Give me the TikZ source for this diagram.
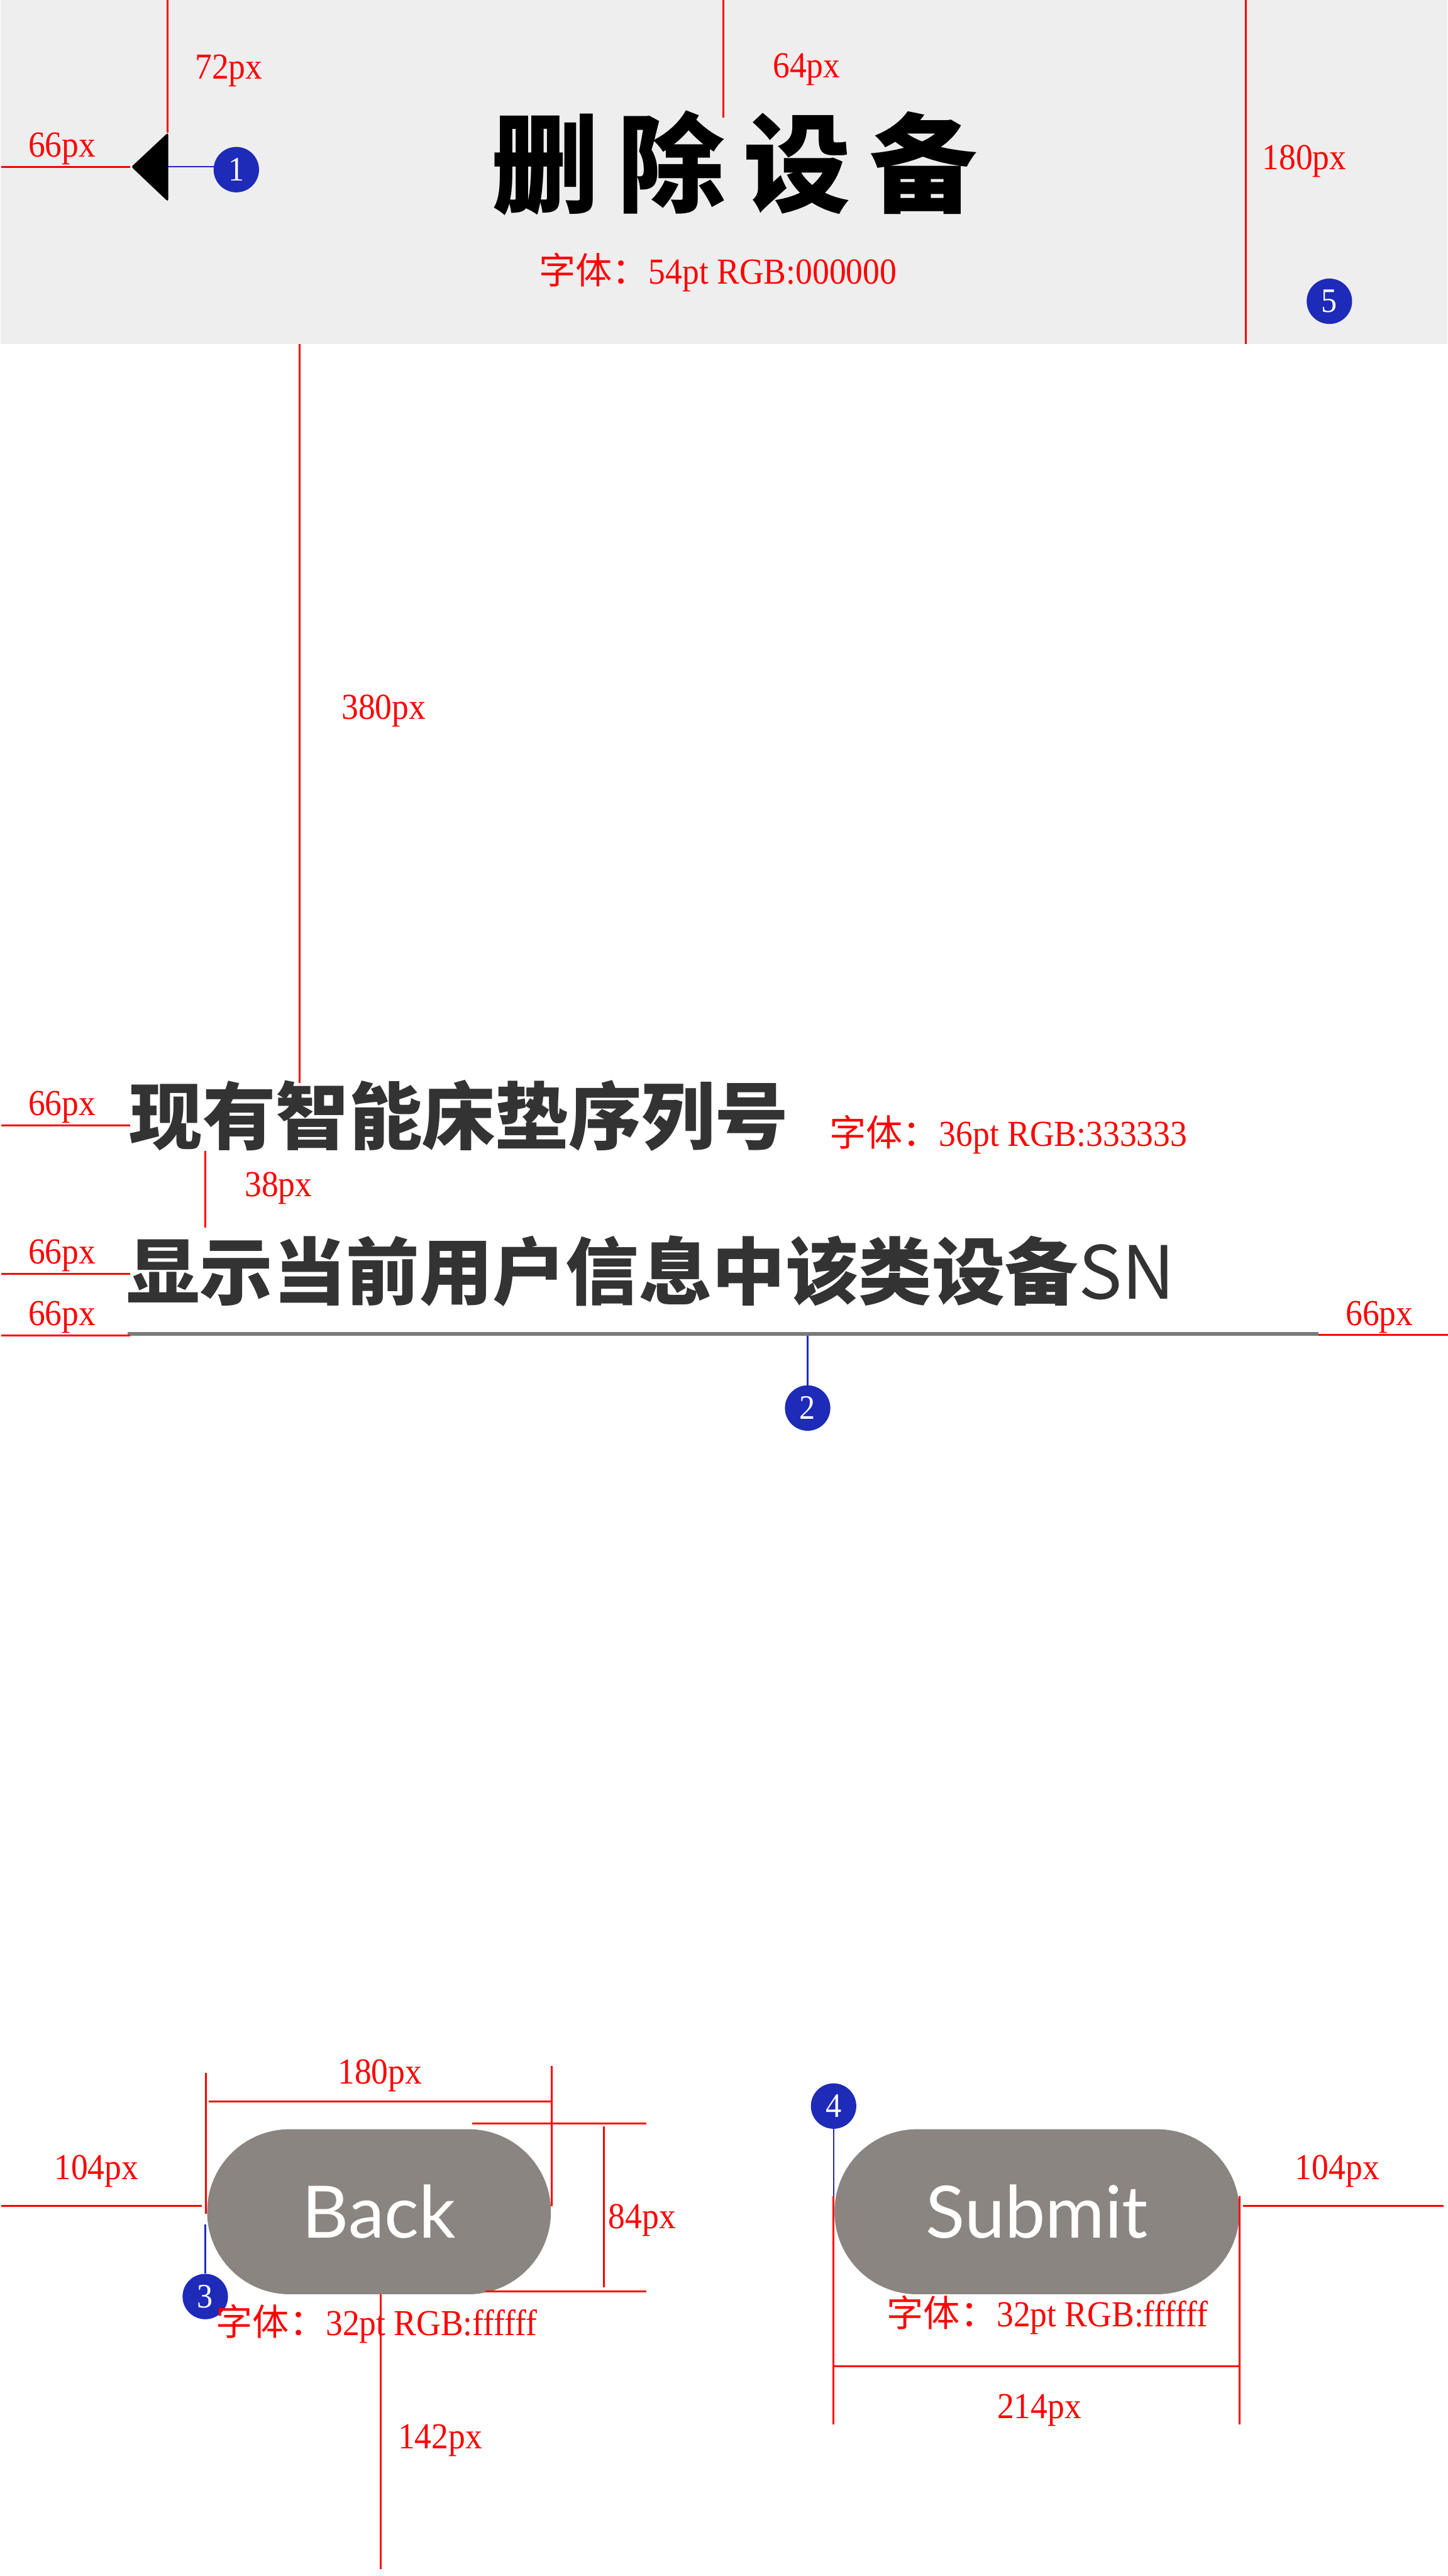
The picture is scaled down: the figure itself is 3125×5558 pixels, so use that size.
\documentclass[tikz,border=0pt]{standalone}
\usepackage{fontspec}
\setmainfont{Liberation Serif}[FakeStretch=0.92]
\newfontfamily\cjk{Noto Sans CJK SC}
\newfontfamily\btnfont{Lato}
\definecolor{hdr}{HTML}{EEEEEE}
\definecolor{mred}{HTML}{FF0000}
\definecolor{mblue}{RGB}{30,42,184}
\definecolor{txt}{HTML}{333333}
\definecolor{uline}{HTML}{7A7A7A}
\definecolor{btn}{RGB}{138,133,128}
\tikzset{
  dim/.style={draw=mred, line width=4pt},
  lbl/.style={text=mred, inner sep=0pt, anchor=base west, font=\fontsize{79}{79}\selectfont},
  badge/.style={circle, fill=mblue, minimum size=98pt, inner sep=0pt, text=white, font=\fontsize{74}{74}\selectfont},
  leader/.style={draw=mblue, line width=3pt},
  pill/.style={fill=btn, rounded corners=177.9pt, minimum height=356pt, inner sep=0pt, text=white, font=\btnfont\fontsize{156}{156}\selectfont},
  body/.style={text=txt, inner sep=0pt, anchor=west, font=\cjk\bfseries\fontsize{158}{158}\selectfont}
}
\begin{document}
\begin{tikzpicture}[x=1pt, y=-1pt]
\useasboundingbox (0,0) rectangle (3125,5558);
% header
\fill[hdr] (2,0) rectangle (3123,742);
\filldraw[black, rounded corners=3pt, line width=2pt] (285,360) -- (362,288) -- (362,433) -- cycle;
\coordinate (arrowR) at (362,360);
\node[badge] (c1) at (510,366) {1};
\draw[leader] (arrowR) -- (arrowR -| c1.west);
\draw[dim] (362,0) -- (362,286);
\node[lbl] (l72) at (421,170) {72px};
\draw[dim] (3,360) -- (281,360);
\node[lbl] (l66a) at (61,339) {66px};
\draw[dim] (1561,0) -- (1561,254);
\node[lbl] (l64) at (1668,167) {64px};
\node[inner sep=0pt, font=\cjk\bfseries\fontsize{232}{232}\selectfont] (title) at (1585,352) {删\hspace{40pt}除\hspace{40pt}设\hspace{40pt}备};
\node[lbl] (f54) at (1163,613) {{\cjk 字体：}54pt RGB:000000};
\draw[dim] (2689,0) -- (2689,742);
\node[lbl] (l180a) at (2724,366) {180px};
\node[badge] (c5) at (2869,650) {5};
% body text
\draw[dim] (647,742) -- (647,2336);
\node[lbl] (l380) at (737,1552) {380px};
\node[body] (line1) at (279,2407) {现有智能床垫序列号};
\draw[dim] (3,2428) -- (281,2428);
\node[lbl] (l66b) at (61,2406) {66px};
\node[lbl] (f36) at (1790,2473) {{\cjk 字体：}36pt RGB:333333};
\draw[dim] (443,2483) -- (443,2649);
\node[lbl] (l38) at (528,2582) {38px};
\node[body] (line2) at (273,2742) {显示当前用户信息中该类设备{\mdseries SN}};
\draw[dim] (3,2748) -- (281,2748);
\node[lbl] (l66c) at (61,2727) {66px};
\draw[uline, line width=9pt] (276,2878) -- (2845,2878);
\draw[dim] (3,2881) -- (281,2881);
\node[lbl] (l66d) at (61,2860) {66px};
\draw[dim] (2845,2880) -- (3125,2880);
\node[lbl] (l66e) at (2904,2860) {66px};
\node[badge] (c2) at (1743,3038) {2};
\coordinate (ulmid) at (1743,2882);
\draw[leader] (ulmid) -- (c2.north);
% back button
\node[pill, minimum width=742pt] (back) at (818,4772) {Back};
\draw[dim] (450,4534) -- (1191,4534);
\draw[dim] (445,4472) -- (445,4777);
\draw[dim] (1191,4457) -- (1191,4760);
\node[lbl] (l180b) at (729,4496) {180px};
\draw[dim] (1019,4581) -- (1395,4581);
\draw[dim] (1048,4944) -- (1395,4944);
\draw[dim] (1303,4588) -- (1303,4935);
\node[lbl] (l84) at (1313,4808) {84px};
\draw[dim] (3,4760) -- (435,4760);
\node[lbl] (l104a) at (117,4703) {104px};
\draw[dim] (821,4950) -- (821,5543);
\node[lbl] (l142) at (859,5283) {142px};
\node[badge] (c3) at (443,4955) {3};
\coordinate (c3top) at (443,4799);
\draw[leader] (c3top) -- (c3.north);
\node[lbl] (f32a) at (466,5039) {{\cjk 字体：}32pt RGB:ffffff};
% submit button
\node[pill, minimum width=874pt] (submit) at (2238,4772) {Submit};
\node[badge] (c4) at (1799,4544) {4};
\coordinate (c4bot) at (1799,4739);
\draw[leader] (c4.south) -- (c4bot);
\draw[dim] (1799,4739) -- (1799,5231);
\draw[dim] (2675,4739) -- (2675,5231);
\draw[dim] (1799,5106) -- (2675,5106);
\node[lbl] (l214) at (2152,5218) {214px};
\draw[dim] (2682,4760) -- (3115,4760);
\node[lbl] (l104b) at (2795,4702) {104px};
\node[lbl] (f32b) at (1914,5020) {{\cjk 字体：}32pt RGB:ffffff};
\end{tikzpicture}
\end{document}
